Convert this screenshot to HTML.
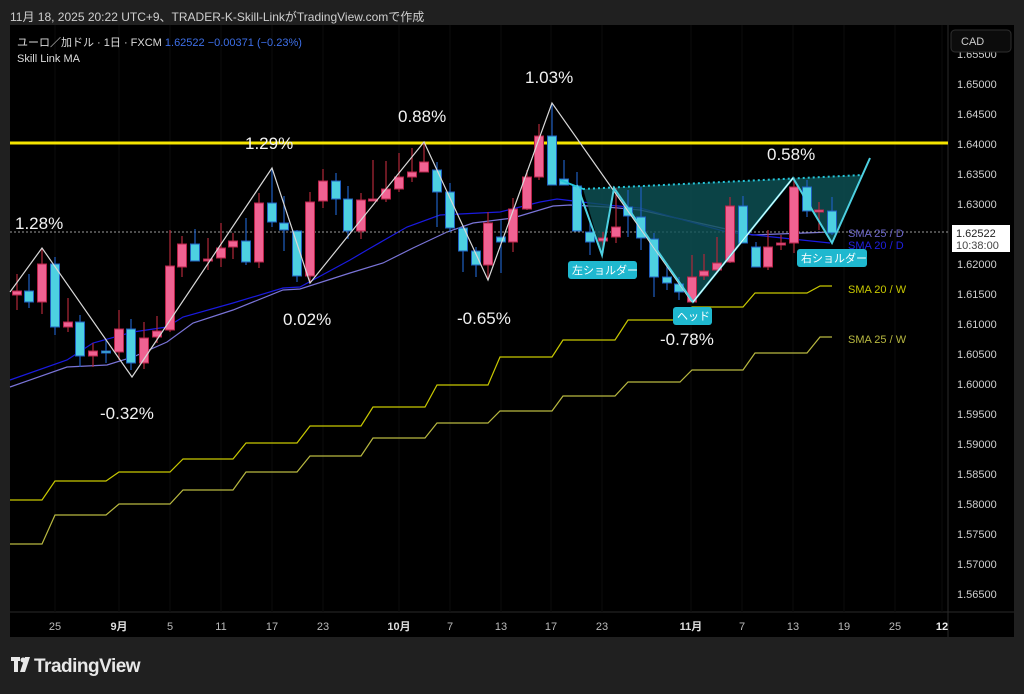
<!DOCTYPE html>
<html><head><meta charset="utf-8"><style>
html,body{margin:0;padding:0;background:#202020;width:1024px;height:694px;overflow:hidden}
svg{display:block}
</style></head><body>
<svg id="s" width="1024" height="694" xmlns="http://www.w3.org/2000/svg" font-family="Liberation Sans, Noto Sans CJK JP, sans-serif">
<rect width="1024" height="694" fill="#202020"/>
<text x="10" y="21" font-size="12" fill="#cfcfcf">11月 18, 2025 20:22 UTC+9、TRADER-K-Skill-LinkがTradingView.comで作成</text>
<rect x="10" y="25" width="1004" height="612" fill="#000"/>
<line x1="948" y1="25" x2="948" y2="637" stroke="#2a2a2a"/>
<line x1="10" y1="612" x2="1014" y2="612" stroke="#2a2a2a"/>
<g id="grid" stroke="#0c0c0c"></g>
<g id="yl" font-size="11" fill="#d0d0d0"></g>
<!-- weekly SMAs -->
<polyline fill="none" stroke="#c8c800" stroke-width="1.2" points="10,500 42,500 55,481 106,481 119,472 170,472 183,459 233,459 246,443 297,443 310,426 361,426 373,407 425,407 437,385 488,385 500,357 552,357 563,340 615,340 628,320 680,320 692,307 743,307 755,293 807,293 820,286 832,286"/>
<polyline fill="none" stroke="#b8b840" stroke-width="1.2" points="10,544 42,544 55,515 106,515 119,504 170,504 183,490 233,490 246,472 297,472 310,456 361,456 373,438 425,438 437,423 488,423 500,411 552,411 563,396 615,396 628,382 680,382 692,370 743,370 755,353 807,353 820,337 832,337"/>
<!-- daily SMAs -->
<polyline fill="none" stroke="#7a74d8" stroke-width="1.2" points="10,387 67,367 107,365 133,357 167,342 193,323 233,310 283,290 300,289 350,273 383,263 413,248 447,232 473,223 513,218 553,206 570,205 607,207 640,210 717,227 753,235 830,232"/>
<polyline fill="none" stroke="#1a1ae0" stroke-width="1.2" points="10,380 67,360 93,343 133,332 167,327 183,317 233,303 283,288 300,287 350,260 367,250 407,227 440,215 500,212 540,202 557,199 607,205 640,208 727,232 773,237 830,243"/>
<line x1="10" y1="143" x2="948" y2="143" stroke="#f5e400" stroke-width="3"/>
<line x1="10" y1="232" x2="948" y2="232" stroke="#9a9a9a" stroke-dasharray="2,2"/>
<!-- pattern fill -->
<polygon points="583,189 602,255 614,188 693,302 793,178 832,243 862,175" fill="#0e5458" opacity="0.8"/>
<line x1="583" y1="189" x2="862" y2="175" stroke="#26c6da" stroke-width="2" stroke-dasharray="2,3"/>
<g id="candles"></g>
<polyline fill="none" stroke="#d8d8d8" stroke-width="1.2" points="10,292 42,248 132,377 272,168 310,283 424,142 488,280 552,103 692,302"/>
<polyline fill="none" stroke="#26c6da" stroke-width="2" points="560,180 583,189"/>
<polyline fill="none" stroke="#4dd0e1" stroke-width="2" points="577,185 602,255 614,188 693,302 793,178 832,243 870,158"/>
<polyline fill="none" stroke="#e0ffff" stroke-width="1" points="693,302 793,178"/>
<!-- labels -->
<g font-size="17" fill="#f2f2f2">
<text x="15" y="229">1.28%</text><text x="245" y="149">1.29%</text><text x="398" y="122">0.88%</text>
<text x="525" y="83">1.03%</text><text x="767" y="160">0.58%</text><text x="283" y="325">0.02%</text>
<text x="100" y="419">-0.32%</text><text x="457" y="324">-0.65%</text><text x="660" y="345">-0.78%</text>
</g>
<g font-size="11" fill="#fff">
<rect x="568" y="261" width="69" height="18" rx="3" fill="#1fb8cf"/><text x="572" y="274">左ショルダー</text>
<rect x="673" y="307" width="39" height="18" rx="3" fill="#1fb8cf"/><text x="677" y="320">ヘッド</text>
<rect x="797" y="249" width="70" height="18" rx="3" fill="#1fb8cf"/><text x="801" y="262">右ショルダー</text>
</g>
<g font-size="11">
<text x="848" y="237" fill="#6a64c8">SMA 25 / D</text>
<text x="848" y="249" fill="#2020e0">SMA 20 / D</text>
<text x="848" y="293" fill="#c8c800">SMA 20 / W</text>
<text x="848" y="343" fill="#b8b840">SMA 25 / W</text>
</g>
<rect x="952" y="225" width="58" height="27" fill="#fff"/>
<text x="956" y="237" font-size="11" fill="#222">1.62522</text>
<text x="956" y="249" font-size="11" fill="#444">10:38:00</text>
<rect x="951" y="30" width="60" height="22" rx="4" fill="#0c0c0c" stroke="#2e2e2e"/>
<text x="961" y="45" font-size="11" fill="#ccc">CAD</text>
<text x="17" y="46" font-size="11" fill="#ddd">ユーロ／加ドル · 1日 · FXCM <tspan fill="#3d6fe8">1.62522  −0.00371 (−0.23%)</tspan></text>
<text x="17" y="62" font-size="11" fill="#ddd">Skill Link MA</text>
<g font-size="11" fill="#bbb" text-anchor="middle">
<text x="55" y="630">25</text><text x="119" y="630" font-weight="bold" fill="#ddd">9月</text><text x="170" y="630">5</text>
<text x="221" y="630">11</text><text x="272" y="630">17</text><text x="323" y="630">23</text>
<text x="399" y="630" font-weight="bold" fill="#ddd">10月</text><text x="450" y="630">7</text><text x="501" y="630">13</text>
<text x="551" y="630">17</text><text x="602" y="630">23</text><text x="691" y="630" font-weight="bold" fill="#ddd">11月</text>
<text x="742" y="630">7</text><text x="793" y="630">13</text><text x="844" y="630">19</text><text x="895" y="630">25</text>
<text x="942" y="630" font-weight="bold" fill="#eee">12</text>
</g>
<g fill="#e8e8e8">
<rect x="11" y="657" width="9" height="4"/><rect x="14" y="657" width="4" height="15"/>
<circle cx="23" cy="660" r="2.5"/><polygon points="25,657 30,657 25,672 20,672"/>
</g>
<text x="34" y="672" font-size="19" font-weight="bold" fill="#e8e8e8" letter-spacing="-0.5">TradingView</text>
</svg>
<script>
var NS="http://www.w3.org/2000/svg";
function el(p,t,a){var e=document.createElementNS(NS,t);for(var k in a)e.setAttribute(k,a[k]);p.appendChild(e);return e;}
var yl=document.getElementById('yl'),gr=document.getElementById('grid');
for(var i=0;i<=17;i++){var p=1.65-i*0.005,y=84+i*30;el(yl,'text',{x:957,y:y+4}).textContent=p.toFixed(5);}
el(yl,'text',{x:957,y:58}).textContent='1.65500';
[55,119,170,221,272,323,399,450,501,551,602,691,742,793,844,895,942].forEach(function(x){el(gr,'line',{x1:x,y1:25,x2:x,y2:612});});
var C=[[17,'p',291,295,274,310],[29,'c',291,302,274,308],[42,'p',264,302,248,314],[55,'c',264,327,257,335],[68,'p',322,327,298,332],[80,'c',322,356,315,367],[93,'p',351,356,343,367],[106,'c',351,353,339,363],[119,'p',329,352,310,360],[131,'c',329,363,319,370],[144,'p',338,363,322,369],[157,'p',331,337,316,343],[170,'p',266,330,230,332],[182,'p',244,267,236,277],[195,'c',244,261,229,261],[208,'p',259,260,238,270],[221,'p',248,258,223,267],[233,'p',241,247,233,259],[246,'c',241,262,218,265],[259,'p',203,262,193,268],[272,'c',203,222,168,227],[284,'c',223,230,196,251],[297,'c',231,276,230,282],[310,'p',202,276,192,282],[323,'p',181,201,169,208],[336,'c',181,199,173,215],[348,'c',199,231,186,239],[361,'p',200,231,193,239],[373,'p',199,200,160,200],[386,'p',189,199,161,202],[399,'p',177,189,153,192],[412,'p',172,177,148,182],[424,'p',162,172,142,172],[437,'c',170,192,162,227],[450,'c',192,228,183,232],[463,'c',228,251,225,272],[476,'c',251,265,247,277],[488,'p',223,265,212,280],[501,'c',237,242,220,273],[513,'p',209,242,198,252],[527,'p',177,209,170,210],[539,'p',136,177,124,180],[552,'c',136,185,103,185],[564,'c',179,185,160,185],[577,'c',186,231,172,231],[590,'c',232,242,222,255],[603,'p',238,241,232,253],[616,'p',227,237,188,243],[628,'c',207,216,190,237],[641,'c',217,238,187,250],[654,'c',239,277,233,297],[667,'c',277,283,263,290],[679,'c',284,292,277,300],[692,'p',277,302,255,302],[704,'p',271,276,254,280],[717,'p',263,270,237,272],[730,'p',206,262,197,263],[743,'c',206,243,196,243],[756,'c',247,267,242,267],[768,'p',247,267,230,270],[781,'p',243,245,235,250],[794,'p',187,243,178,253],[807,'c',187,211,180,217],[819,'p',210,211,202,230],[832,'c',211,233,197,235]];
var g=document.getElementById('candles');
C.forEach(function(c){var pk=c[1]=='p';var wc=pk?'#b0283a':'#1f5fc0',fc=pk?'#f06292':'#4dd0e1',bc=pk?'#b8244a':'#1f5fc0';
el(g,'line',{x1:c[0],y1:c[4],x2:c[0],y2:c[5],stroke:wc,'stroke-width':1.2});
el(g,'rect',{x:c[0]-4.5,y:c[2],width:9,height:Math.max(2,c[3]-c[2]),fill:fc,stroke:bc,'stroke-width':1});});
</script>
</body></html>
